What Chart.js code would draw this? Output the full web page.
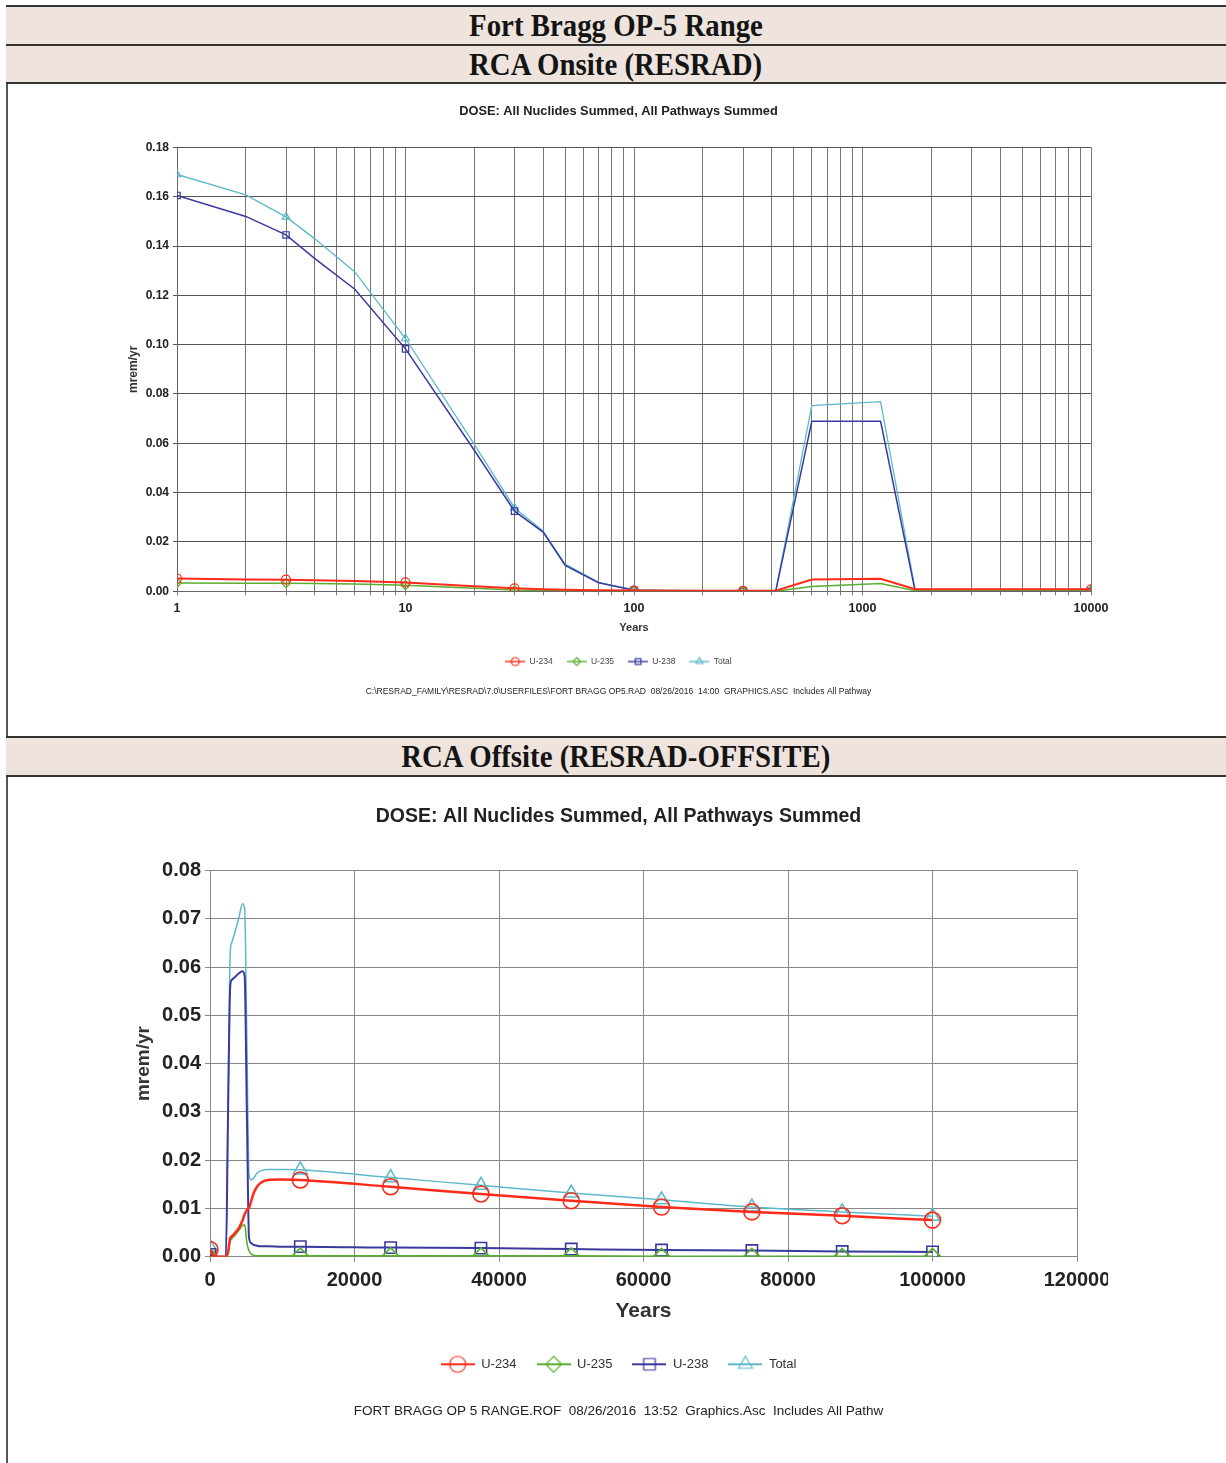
<!DOCTYPE html>
<html>
<head>
<meta charset="utf-8">
<title>Fort Bragg OP-5 Range</title>
<script src="https://cdn.jsdelivr.net/npm/chart.js@4.4.1/dist/chart.umd.min.js"></script>
<style>
  body { margin: 0; background: #fff; width: 1226px; height: 1463px; overflow: hidden; position: relative;
         font-family: "Liberation Sans", Arial, sans-serif; }
  .edge { position: absolute; left: 6px; top: 5px; width: 2px; height: 1458px; background: #555; }
  .band { position: absolute; left: 6px; width: 1220px; background: #efe4dd; box-sizing: border-box;
          border-top: 2px solid #333; text-align: center; color: #141414;
          font-family: "Liberation Serif", "Times New Roman", serif; font-weight: bold; font-size: 31px; }
  .band span { display: inline-block; transform: scaleX(0.93); }
  .plot { position: absolute; left: 8px; width: 1100px; overflow: hidden; }
  .plot canvas { display: block; }
</style>
</head>
<body>
<div class="edge"></div>
<div class="band" style="top:5px;height:39px;line-height:37px;"><span>Fort Bragg OP-5 Range</span></div>
<div class="band" style="top:44px;height:40px;line-height:37px;border-bottom:2px solid #333;"><span>RCA Onsite (RESRAD)</span></div>
<div class="band" style="top:736px;height:41px;line-height:38px;border-bottom:2px solid #333;"><span>RCA Offsite (RESRAD-OFFSITE)</span></div>

<div class="plot" style="top:92px;height:615px;"><canvas id="onsite" width="1140" height="611"></canvas></div>
<div class="plot" style="top:790px;height:640px;"><canvas id="offsite" width="1140" height="635"></canvas></div>

<script>
const seriesNames = ['U-234', 'U-235', 'U-238', 'Total'];
const seriesColors = ['#ff2a1a', '#5aae30', '#3a3a9e', '#5db9ca'];
const markerStyles = ['circle', 'rectRot', 'rect', 'triangle'];

// RESRAD onsite dose, mrem/yr
const onsiteYears = [1, 2, 3, 4, 6, 10, 20, 30, 40, 50, 70, 100, 200, 300, 417, 600, 1200, 1700, 3000, 10000];
const onsiteU234  = [0.0052, 0.0048, 0.0047, 0.0045, 0.0042, 0.0036, 0.0020, 0.0012, 0.0008, 0.0006, 0.0004, 0.0003, 0.0002, 0.0002, 0.0002, 0.0048, 0.0051, 0.0008, 0.0008, 0.0008];
const onsiteU235  = [0.0034, 0.0033, 0.0033, 0.0032, 0.0030, 0.0025, 0.0012, 0.0005, 0.0003, 0.0002, 0.0001, 0.0001, 0, 0, 0, 0.0019, 0.0032, 0.0002, 0.0002, 0.0002];
const onsiteU238  = [0.1605, 0.1520, 0.1445, 0.1350, 0.1225, 0.0983, 0.0572, 0.0325, 0.0240, 0.0105, 0.0035, 0.0004, 0, 0, 0, 0.0689, 0.0689, 0, 0, 0];
const onsiteTotal = [0.1690, 0.1607, 0.1518, 0.1430, 0.1295, 0.1025, 0.0596, 0.0338, 0.0245, 0.0110, 0.0036, 0.0006, 0.0003, 0.0002, 0.0002, 0.0753, 0.0769, 0.0008, 0.0008, 0.0008];
const onsiteMarkYears = [1, 3, 10, 30, 100, 300, 10000];
const onsiteTickLabels = [1, 10, 100, 1000, 10000];

// RESRAD-OFFSITE dose, mrem/yr
const offsiteYears = [0, 500, 1000, 2200, 2500, 2800, 3000, 3500, 4000, 4500, 4800, 5100, 5400, 5700, 6000, 6500, 7000, 8000, 10000, 12500, 25000, 37500, 50000, 62500, 75000, 87500, 100000];
const offsiteU234  = [0.0015, 0.0003, 0, 0, 0.0010, 0.0039, 0.0042, 0.0050, 0.0060, 0.0075, 0.0088, 0.0097, 0.0101, 0.0115, 0.0130, 0.0145, 0.0153, 0.0159, 0.0160, 0.0159, 0.0145, 0.0130, 0.0116, 0.0103, 0.0093, 0.0085, 0.0076];
const offsiteU235  = [0, 0, 0, 0, 0.0008, 0.0033, 0.0037, 0.0045, 0.0055, 0.0065, 0.0066, 0.0030, 0.0012, 0.0006, 0.0003, 0.0002, 0.0002, 0.0002, 0.0002, 0.0002, 0.0002, 0.0002, 0.0002, 0.0001, 0.0001, 0.0001, 0.0001];
const offsiteU238  = [0.0005, 0.0002, 0, 0, 0.0300, 0.0560, 0.0573, 0.0580, 0.0587, 0.0591, 0.0580, 0.0300, 0.0040, 0.0028, 0.0025, 0.0023, 0.0022, 0.0022, 0.0021, 0.0021, 0.0019, 0.0018, 0.0016, 0.0014, 0.0013, 0.0011, 0.0010];
const offsiteTotal = [0.0020, 0.0005, 0, 0, 0.0320, 0.0630, 0.0650, 0.0675, 0.0702, 0.0731, 0.0720, 0.0450, 0.0170, 0.0159, 0.0162, 0.0173, 0.0178, 0.0181, 0.0181, 0.0180, 0.0164, 0.0148, 0.0132, 0.0118, 0.0103, 0.0093, 0.0084];
const offsiteMarkYears = [0, 12500, 25000, 37500, 50000, 62500, 75000, 87500, 100000];

const doseTitle = 'DOSE: All Nuclides Summed, All Pathways Summed';
const onsiteFooter = 'C:\\RESRAD_FAMILY\\RESRAD\\7.0\\USERFILES\\FORT BRAGG OP5.RAD  08/26/2016  14:00  GRAPHICS.ASC  Includes All Pathway';
const offsiteFooter = 'FORT BRAGG OP 5 RANGE.ROF  08/26/2016  13:52  Graphics.Asc  Includes All Pathw';

function buildDatasets(years, values, marks, look) {
  return seriesNames.map((name, i) => ({
    label: name,
    data: years.map((x, j) => ({ x: x, y: values[i][j] })),
    borderColor: seriesColors[i],
    borderWidth: look.lineWidths[i],
    pointStyle: markerStyles[i],
    pointRadius: c => (c.raw && marks.includes(c.raw.x)) ? look.markerRadius : 0,
    pointBorderWidth: look.markerWidth,
    pointBorderColor: seriesColors[i],
    pointBackgroundColor: 'rgba(0,0,0,0)',
    cubicInterpolationMode: look.mode,
    tension: 0,
    fill: false
  }));
}

// little line + marker pictures for the legend
function legendIcon(i, w, h, r, lw) {
  const c = document.createElement('canvas');
  c.width = w; c.height = h;
  const g = c.getContext('2d');
  const cx = w / 2, cy = h / 2;
  g.strokeStyle = seriesColors[i];
  g.lineWidth = lw;
  g.beginPath(); g.moveTo(0, cy); g.lineTo(w, cy); g.stroke();
  g.lineWidth = 1.2;
  g.beginPath();
  const s = markerStyles[i];
  if (s === 'circle') {
    g.arc(cx, cy, r, 0, Math.PI * 2);
  } else if (s === 'rectRot') {
    g.moveTo(cx, cy - r); g.lineTo(cx + r, cy); g.lineTo(cx, cy + r); g.lineTo(cx - r, cy); g.closePath();
  } else if (s === 'rect') {
    const q = r * 0.72;
    g.rect(cx - q, cy - q, q * 2, q * 2);
  } else {
    g.moveTo(cx, cy - r); g.lineTo(cx + r * 0.87, cy + r * 0.5); g.lineTo(cx - r * 0.87, cy + r * 0.5); g.closePath();
  }
  g.stroke();
  return c;
}

function legendLabels(icons, color) {
  return chart => chart.data.datasets.map((ds, i) => ({
    text: ds.label,
    pointStyle: icons[i],
    fillStyle: 'rgba(0,0,0,0)',
    strokeStyle: 'rgba(0,0,0,0)',
    lineWidth: 0,
    fontColor: color,
    hidden: false,
    datasetIndex: i
  }));
}

// log grid at 1..9 of every decade
const logGrid = [];
for (let d = 1; d < 10000; d *= 10) {
  for (let k = 1; k < 10; k++) logGrid.push(k * d);
}
logGrid.push(10000);

// layout padding left sets where title/legend/footer centre; the y axis
// width and a negative title padding put the plot and "mrem/yr" back in place
new Chart(document.getElementById('onsite'), {
  type: 'line',
  data: {
    datasets: buildDatasets(onsiteYears, [onsiteU234, onsiteU235, onsiteU238, onsiteTotal], onsiteMarkYears,
      { lineWidths: [2, 1.5, 1.5, 1.3], markerRadius: 4.5, markerWidth: 1.2, mode: 'default' })
  },
  options: {
    responsive: false,
    animation: false,
    layout: { padding: { left: 138, right: 57, top: 0, bottom: 0 } },
    plugins: {
      title: { display: true, text: doseTitle, color: '#222', font: { size: 12.8, weight: 'bold' },
               padding: { top: 12, bottom: 28 } },
      legend: {
        position: 'bottom',
        labels: {
          usePointStyle: true, pointStyleWidth: 20, padding: 14, color: '#444',
          font: { size: 8.5 },
          generateLabels: legendLabels([0, 1, 2, 3].map(i => legendIcon(i, 20, 12, 4, 1.4)), '#444')
        }
      },
      subtitle: { display: true, position: 'bottom', text: onsiteFooter, color: '#222',
                  font: { size: 8.5 }, padding: { top: 11, bottom: 6 } },
      tooltip: { enabled: false }
    },
    scales: {
      x: {
        type: 'logarithmic', min: 1, max: 10000,
        afterBuildTicks: s => { s.ticks = logGrid.map(v => ({ value: v })); },
        afterFit: s => { s.height = 52; },
        grid: { color: '#777', tickLength: 4 },
        border: { color: '#666' },
        ticks: {
          autoSkip: false, maxRotation: 0, padding: 6, color: '#222', font: { size: 12.5, weight: 'bold' },
          callback: v => onsiteTickLabels.includes(v) ? String(v) : ''
        },
        title: { display: true, text: 'Years', color: '#333', font: { size: 11, weight: 'bold' },
                 padding: { top: 0, bottom: 9 } }
      },
      y: {
        min: 0, max: 0.18,
        afterFit: s => { s.width = 31; },
        grid: { color: '#555', tickLength: 4 },
        border: { color: '#666' },
        ticks: { stepSize: 0.02, padding: 4, color: '#222', font: { size: 12, weight: 'bold' },
                 callback: v => v.toFixed(2) },
        title: { display: true, text: 'mrem/yr', color: '#333', font: { size: 12, weight: 'bold' },
                 padding: { top: -20, bottom: 0 } }
      }
    }
  }
});

new Chart(document.getElementById('offsite'), {
  type: 'line',
  data: {
    datasets: buildDatasets(offsiteYears, [offsiteU234, offsiteU235, offsiteU238, offsiteTotal], offsiteMarkYears,
      { lineWidths: [2.5, 1.6, 2, 1.5], markerRadius: 8, markerWidth: 1.6, mode: 'monotone' })
  },
  options: {
    responsive: false,
    animation: false,
    layout: { padding: { left: 152, right: 71, top: 0, bottom: 0 } },
    plugins: {
      title: { display: true, text: doseTitle, color: '#222', font: { size: 19.5, weight: 'bold' },
               padding: { top: 15, bottom: 42 } },
      legend: {
        position: 'bottom',
        labels: {
          usePointStyle: true, pointStyleWidth: 34, padding: 20, color: '#333',
          font: { size: 13 },
          generateLabels: legendLabels([0, 1, 2, 3].map(i => legendIcon(i, 34, 20, 8, 2)), '#333')
        }
      },
      subtitle: { display: true, position: 'bottom', text: offsiteFooter, color: '#222',
                  font: { size: 13.5 }, padding: { top: 22, bottom: 6 } },
      tooltip: { enabled: false }
    },
    scales: {
      x: {
        type: 'linear', min: 0, max: 120000,
        afterFit: s => { s.height = 81; },
        grid: { color: '#888', tickLength: 5 },
        border: { color: '#888' },
        ticks: { stepSize: 20000, maxRotation: 0, padding: 7, color: '#222', font: { size: 20, weight: 'bold' },
                 callback: v => String(v) },
        title: { display: true, text: 'Years', color: '#333', font: { size: 21, weight: 'bold' },
                 padding: { top: 0, bottom: 14 } }
      },
      y: {
        min: 0, max: 0.08,
        afterFit: s => { s.width = 50; },
        grid: { color: '#888', tickLength: 5 },
        border: { color: '#888' },
        ticks: { stepSize: 0.01, padding: 4, color: '#222', font: { size: 20, weight: 'bold' },
                 callback: v => v.toFixed(2) },
        title: { display: true, text: 'mrem/yr', color: '#333', font: { size: 19, weight: 'bold' },
                 padding: { top: -28, bottom: 0 } }
      }
    }
  }
});
</script>
</body>
</html>
